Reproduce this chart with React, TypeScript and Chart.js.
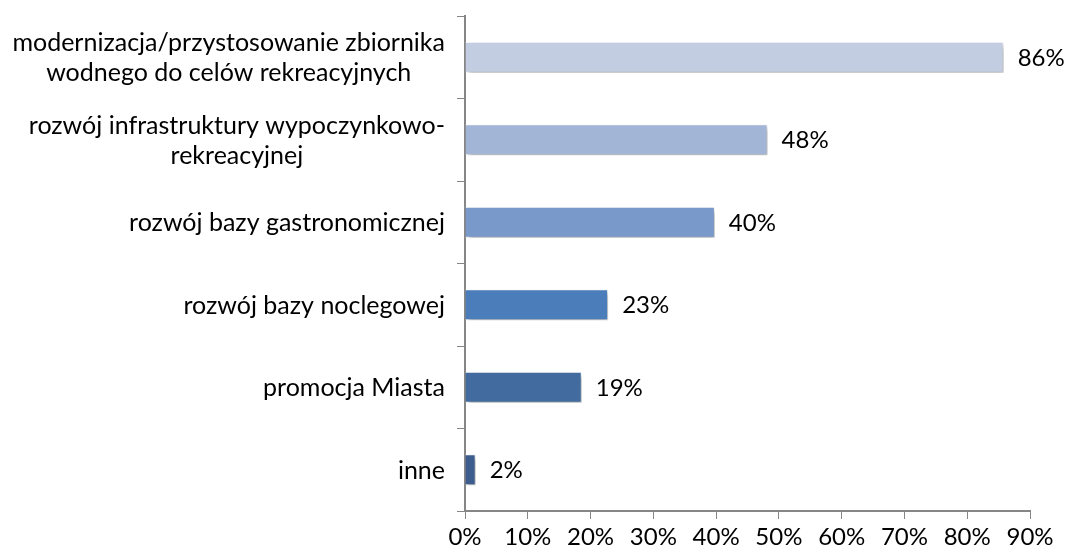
import React, { useEffect, useRef } from "react";
import { Chart, registerables } from "chart.js";

Chart.register(...registerables);

const categories: string[][] = [
  ["modernizacja/przystosowanie zbiornika", "wodnego do celów rekreacyjnych"],
  ["rozwój infrastruktury wypoczynkowo-", "rekreacyjnej"],
  ["rozwój bazy gastronomicznej"],
  ["rozwój bazy noclegowej"],
  ["promocja Miasta"],
  ["inne"],
];
const values: number[] = [85.8, 48.2, 39.8, 22.8, 18.6, 1.7];
const barColors: string[] = ["#C3CDE2", "#A3B5D7", "#7899CA", "#4A7DBA", "#426C9F", "#3C5D8E"];
const xTicks: number[] = [0, 10, 20, 30, 40, 50, 60, 70, 80, 90];

const FONT = "Lato";
const FS = 25;
const NFS = 24;

const shadowPlugin = {
  id: "shadow",
  beforeDatasetsDraw(chart: any) {
    const ctx = chart.ctx;
    ctx.save();
    ctx.shadowColor = "rgba(0,0,0,0.35)";
    ctx.shadowBlur = 5;
    ctx.shadowOffsetX = 2;
    ctx.shadowOffsetY = 3;
  },
  afterDatasetsDraw(chart: any) {
    chart.ctx.restore();
  },
};

const labelsPlugin = {
  id: "labels",
  afterDraw(chart: any) {
    const ctx = chart.ctx;
    ctx.save();
    ctx.fillStyle = "#000";
    ctx.textBaseline = "middle";
    const meta = chart.getDatasetMeta(0);
    meta.data.forEach((bar: any, i: number) => {
      ctx.font = `${NFS}px ${FONT}`;
      ctx.textAlign = "left";
      ctx.fillText(Math.round(values[i]) + "%", bar.x + 14, bar.y + 1);
      ctx.font = `${FS}px ${FONT}`;
      const lines = categories[i];
      const widths = lines.map((l) => ctx.measureText(l).width);
      const maxW = Math.max(...widths);
      const cx = 445 - maxW / 2;
      const lh = 30;
      ctx.textAlign = "center";
      lines.forEach((l, j) => {
        const y = bar.y + 1 + (j - (lines.length - 1) / 2) * lh;
        ctx.fillText(l, cx, y);
      });
    });
    ctx.restore();
  },
};

export default function App() {
  const ref = useRef<HTMLCanvasElement>(null);
  useEffect(() => {
    const chart = new Chart(ref.current!, {
      type: "bar",
      data: {
        labels: categories.map((c) => c.join(" ")),
        datasets: [
          {
            data: values,
            backgroundColor: barColors,
            borderColor: "#FFFFFF",
            borderWidth: 1,
            categoryPercentage: 0.75,
            barPercentage: 0.5,
          },
        ],
      },
      options: {
        indexAxis: "y",
        animation: false,
        responsive: true,
        maintainAspectRatio: false,
        layout: { padding: { top: 16, right: 35, left: 0, bottom: 0 } },
        plugins: { legend: { display: false }, tooltip: { enabled: false } },
        scales: {
          x: {
            min: 0,
            max: 90,
            afterBuildTicks(axis: any) {
              axis.ticks = xTicks.map((v) => ({ value: v }));
            },
            afterFit(axis: any) {
              axis.height = 43;
            },
            ticks: {
              callback: (v: any) => v + "%",
              color: "#000",
              font: { family: FONT, size: NFS },
              padding: 4,
              maxRotation: 0,
              autoSkip: false,
            },
            grid: {
              drawOnChartArea: false,
              color: "#868686",
              tickLength: 8,
            },
            border: { color: "#868686", width: 2 },
          },
          y: {
            afterFit(axis: any) {
              axis.width = 465;
            },
            ticks: { display: false },
            grid: {
              drawOnChartArea: false,
              color: "#868686",
              tickLength: 8,
              offset: true,
            },
            border: { color: "#868686", width: 2 },
          },
        },
      },
      plugins: [shadowPlugin, labelsPlugin],
    });
    return () => chart.destroy();
  }, []);
  return (
    <div style={{ position: "fixed", left: 0, top: 0, width: 1065, height: 554, background: "#fff" }}>
      <canvas ref={ref} />
    </div>
  );
}
